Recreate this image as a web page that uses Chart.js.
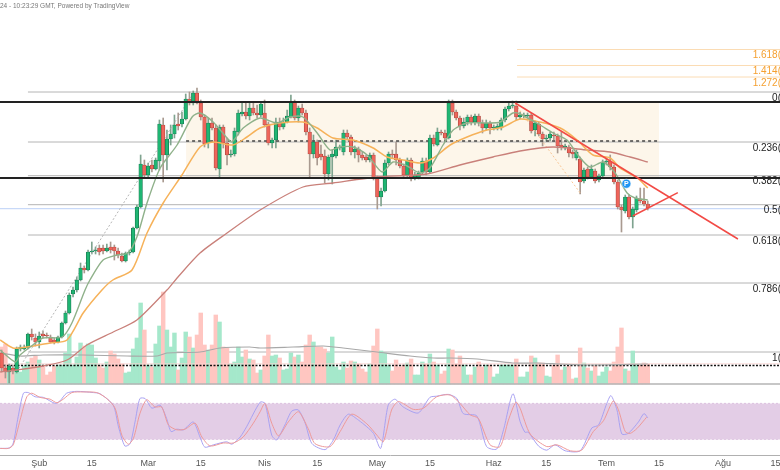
<!DOCTYPE html>
<html>
<head>
<meta charset="utf-8">
<script src="https://cdn.jsdelivr.net/npm/chart.js@4"></script>
<style>
    html, body { margin: 0; padding: 0; background: #ffffff; overflow: hidden; }
    canvas { display: block; filter: blur(0.45px); }
</style>
</head>
<body>
<canvas id="priceChart" width="780" height="470"></canvas>
<script>
// days are counted from 1 Feb
var firstCandleDay = -10;
var tickDays = [0, 14, 29, 43, 60, 74, 90, 104, 121, 135, 151, 165, 182, 196];
var tickLabels = ['Şub', '15', 'Mar', '15', 'Nis', '15', 'May', '15', 'Haz', '15', 'Tem', '15', 'Ağu', '15'];

var opens = [47,32,28,32,28,51,51,52,66,62,58,66,65,63,60,58,63,77,87,106,110,120,132,130,148,149,152,152,149,153,153,149,144,139,147,148,172,193,235,225,235,231,239,275,245,261,266,276,276,281,301,297,307,297,283,257,277,272,231,273,257,245,246,268,286,288,284,292,287,285,287,276,257,260,278,273,278,283,298,282,292,287,268,246,258,246,244,226,243,244,252,248,267,263,248,251,245,243,240,245,222,203,209,237,246,246,240,234,225,240,223,223,228,239,228,262,255,268,267,262,297,288,282,274,278,283,278,284,277,272,277,272,272,272,280,291,294,294,283,284,284,285,270,276,266,261,262,265,264,255,253,253,248,242,241,219,231,223,229,220,224,238,239,233,218,193,189,203,183,190,201,199,196];
var closes = [32,28,34,29,51,53,53,66,63,58,64,64,64,58,58,63,77,87,105,110,120,132,130,148,149,150,148,149,152,150,149,145,139,147,148,172,193,236,225,234,231,240,276,245,261,266,275,274,281,301,297,307,297,283,256,277,272,232,273,257,245,246,269,287,288,284,292,287,285,296,275,257,260,278,273,278,284,298,282,292,287,268,246,258,242,243,226,243,246,253,253,267,263,248,251,245,242,240,245,222,203,209,237,246,245,240,234,225,240,222,225,227,239,228,262,256,268,267,262,297,288,282,274,278,283,278,284,277,272,277,272,273,274,280,291,294,295,283,285,285,285,269,277,266,261,262,266,264,254,253,254,247,246,248,218,230,223,231,219,224,238,239,233,218,193,190,203,183,191,202,199,196,192];
var highs = [50,35,36,35,53,55,55,67,71,66,68,69,67,65,62,64,78,89,107,113,123,137,134,150,158,153,155,155,156,158,155,152,147,148,150,173,195,245,240,237,240,242,280,282,270,275,285,287,288,306,308,309,312,300,285,282,282,275,275,275,262,250,272,290,298,298,298,297,295,297,300,278,262,282,282,282,290,305,300,294,296,290,272,265,260,255,250,245,250,260,255,270,270,265,254,253,248,245,247,247,224,212,240,248,250,258,242,236,242,242,228,229,242,242,265,265,272,270,270,300,300,290,284,282,285,285,286,286,280,280,279,275,276,282,293,298,299,299,288,287,287,287,279,278,268,265,268,268,266,268,256,255,250,250,243,232,233,235,231,226,240,242,245,235,220,195,205,205,193,204,212,212,199];
var lows = [28,22,17,26,27,49,50,51,60,54,52,62,62,57,56,57,62,76,86,103,108,119,127,129,146,146,145,146,148,147,140,142,138,138,145,147,171,192,223,223,228,230,230,218,230,255,262,270,273,280,295,295,296,280,253,252,270,230,223,252,235,243,244,265,284,281,280,285,282,283,273,255,252,252,270,271,277,282,280,278,285,265,222,242,235,240,217,220,216,242,250,245,260,245,242,238,240,238,238,220,191,194,208,235,242,235,232,223,222,219,220,221,226,225,227,254,254,265,260,261,285,280,270,272,275,275,275,274,267,270,266,270,270,270,278,289,292,280,281,282,282,267,264,264,254,259,259,260,247,250,250,243,242,240,206,217,221,222,217,218,223,235,230,216,191,168,187,181,172,188,197,194,190];
var volumes = [37,40,12,14,22,12,18,22,26,28,24,18,9,12,18,19,19,31,50,19,27,41,38,40,39,26,19,16,22,33,30,25,20,11,12,35,46,81,54,19,17,40,58,92,54,37,51,14,26,52,47,36,49,71,39,34,39,69,62,37,36,20,22,37,27,34,25,24,11,14,28,49,28,29,26,14,15,31,27,29,22,39,49,42,37,37,35,31,47,17,14,22,16,23,22,20,15,12,20,38,55,33,31,19,13,24,17,19,21,25,9,9,22,20,30,22,19,10,13,35,34,20,28,19,9,9,17,22,17,19,19,7,10,19,19,19,19,25,7,7,12,28,26,21,21,8,7,19,29,14,17,18,5,6,36,21,16,13,18,8,12,17,13,22,37,56,15,13,33,20,19,21,20];

// moving averages: [day, value] pairs
var fastMaDays = [-10.4,-6.4,-5.1,-1.7,1,6.1,8.7,12.2,13.5,17,20.7,23.6,26,28.7,32.2,36.7,40.7,42.8,46.3,50,51.3,54.3,58.8,63.3,66.8,70.2,74,77.4,80.1,83.5,87.3,91.3,94.2,97.9,101.4,104,107.5,110.2,113.9,119.2,122.7,126.1,128,133.3,136.8,140.5,143.4,146.6,150.1,153.3,156.5,158.6,162];
var fastMa = [50,38,45,55,62,63,77,110,120,140,145,147,163,197,232,255,283,287,278,262,258,272,282,277,283,283,267,250,253,253,245,228,238,234,227,232,255,270,277,277,278,287,286,275,267,260,245,233,238,227,207,202,200];
var midMaDays = [-10.4,-7,-3.2,2.9,7.4,11.7,16.7,19.6,24.7,28.7,33,38,42.8,46.3,51.6,55.3,58.8,64.1,70.2,74,78.2,83.5,88.9,92.6,96.9,101.4,104.9,109.4,113.9,119.2,123.5,128,133.3,138.7,143.2,147.4,152,154.6,159.2,162];
var midMa = [60,52,53,57,60,87,110,120,130,167,197,225,253,258,255,263,272,277,278,272,262,260,252,243,240,237,242,255,263,270,273,281,278,272,260,245,242,232,222,212];
var slowMaDays = [-10.4,-6,1,7.4,12.7,19.7,26,34,36.7,42.8,50,58.8,70.2,78.2,89.9,103.2,112,120.8,128,136.8,145.9,152,157.3,162];
var slowMa = [28,30,34,40,55,68,80,110,122,147,167,190,213,217,223,226,235,243,249,253,250,248,243,238];
var volumeMaDays = [-10.4,-5.1,1,11.7,23.4,31.4,34,42.8,48.1,56,58.8,67.6,75.6,80.9,89.9,98.7,104.9,109.4,116.6,126.1,132.5,138.7,145.9,162];
var volumeMa = [31,28,29,29,28,28,31,32,36,37,36,37,38,36,32,28,26,26,25,21,21,20,19,20];

var stochKDays = [-10.4,-7.8,-6.9,-5.6,-4.2,-2.9,-1.1,1.1,4.2,5.5,7.3,10,14.4,16.2,19.7,21.1,22.8,24.2,25.5,26.8,28.2,30,32.2,33.9,35.1,36.6,38.4,41,42.8,44.1,46.4,49.9,51.3,53.5,55.2,58.8,60.1,61.9,63.2,65.4,67.2,69,70.8,72.6,76.1,78.3,80.1,82.3,85,87.2,89,90.9,92.9,94.7,96.9,100.9,104,105.8,108.9,111.2,112.9,116.5,119.1,121.8,123.6,126.1,128,129.3,130.2,132.9,135.1,137.3,140,144,147.1,148.9,151.1,152.2,153.8,155.1,156.8,159.5,161,162];
var stochK = [5,6,14,58,97,98,91,90,80,84,97,100,98,96,77,41,9,13,49,88,88,72,77,55,33,37,36,49,24,7,11,16,12,24,41,82,80,27,19,44,67,69,47,13,3,19,44,62,52,41,30,5,77,87,74,64,90,92,95,88,63,59,8,4,36,96,50,32,32,9,2,11,1,1,39,44,80,93,69,29,30,49,63,56];
var stochDDays = [-10.4,-8.2,-6.9,-5.1,-3.3,-2,0.2,2.9,4.7,6.4,8.7,11.7,15.3,18,20.2,22,23.7,25.1,26.8,28.6,30.8,32.6,34.4,36.6,38.8,41.5,43.3,45.5,49,51.7,54.3,57,58.8,60.1,61.9,63.7,66.3,69,71.6,73.4,77.4,80.1,83.2,87.2,89.9,91.6,93.8,95.6,99.6,102.3,105.8,109.4,112,114.7,116.9,120,122.7,124.9,126.9,128,130.7,135.1,137.8,141.4,144.4,147.5,150.2,152.8,154.2,156,157.3,159.1,161.7];
var stochD = [5,5,11,52,91,97,90,87,81,87,98,99,98,88,72,27,12,22,63,86,74,74,44,36,37,47,24,9,14,14,24,47,66,80,47,26,49,66,38,13,8,33,62,46,27,16,69,83,70,72,91,94,80,61,55,11,8,52,82,72,29,8,11,1,2,33,51,84,69,33,30,38,57];

var fibLevels = ['0', '0.236', '0.382', '0.5', '0.618', '0.786', '1'];
var fibPrices = [308, 258, 224.3, 195.3, 165, 117, 48];
var extLevels = ['1.272', '1.414', '1.618'];
var extPrices = [323, 334.5, 350.5];

var xMin = -10.44;
var xMax = 197.2;

function candleDay(i) {
    return firstCandleDay + i;
}

function pairs(days, values) {
    return days.map(function (d, i) {
        return { x: d, y: values[i] };
    });
}

function level(y, from, to, color, width, dash, order, axis) {
    return {
        type: 'line',
        data: [{ x: from, y: y }, { x: to, y: y }],
        yAxisID: axis || 'y',
        borderColor: color,
        borderWidth: width,
        borderDash: dash || [],
        pointRadius: 0,
        fill: false,
        order: order
    };
}

function curve(days, values, color, width, order, axis) {
    return {
        type: 'line',
        data: pairs(days, values),
        yAxisID: axis || 'y',
        borderColor: color,
        borderWidth: width,
        pointRadius: 0,
        tension: 0.25,
        fill: false,
        order: order
    };
}

var isUp = opens.map(function (o, i) { return closes[i] >= o; });

var datasets = [];

// consolidation box
var box = level(297, 39.1, 165, 'rgba(0,0,0,0)', 0, [], 100);
box.fill = { value: 221 };
box.backgroundColor = '#fdf6ea';
datasets.push(box);

// fib levels
fibPrices.forEach(function (p) {
    datasets.push(level(p, -3, xMax, '#b4b4b4', 1, [], 90));
});
extPrices.forEach(function (p) {
    datasets.push(level(p, 127.2, xMax, '#fbdcb4', 1, [], 90));
});
datasets.push(level(191.3, xMin, xMax, '#bcd0f7', 1, [], 88));
datasets.push(level(259, 39.1, 165, '#444444', 1.4, [3, 3], 55));
datasets.push(level(298, xMin, xMax, '#222222', 1.8, [], 35));
datasets.push(level(222, xMin, xMax, '#222222', 1.8, [], 35));

// stochastic band
var band = level(80, xMin, xMax, '#dcc2e0', 1, [2, 2], 85, 'yStoch');
band.fill = { value: 20 };
band.backgroundColor = '#e3cde6';
datasets.push(band);
datasets.push(level(20, xMin, xMax, '#dcc2e0', 1, [2, 2], 85, 'yStoch'));

// volume
datasets.push({
    type: 'bar',
    data: volumes.map(function (v, i) { return { x: candleDay(i), y: v }; }),
    yAxisID: 'yVol',
    grouped: false,
    barThickness: 3.8,
    backgroundColor: isUp.map(function (up) { return up ? '#a5e8cb' : '#ffc6c1'; }),
    order: 80
});
datasets.push(level(16, xMin, xMax, '#b4b4b4', 1.6, [], 75));
datasets.push(level(36.2, xMin, xMax, '#fad3d0', 0.8, [], 72));
datasets.push(level(34.5, xMin, xMax, '#111111', 1.4, [2, 1.5], 71));
datasets.push(curve(volumeMaDays, volumeMa, '#a8a8a8', 1.2, 70, 'yVol'));

// candles
datasets.push({
    type: 'bar',
    data: lows.map(function (l, i) { return { x: candleDay(i), y: [l, highs[i]] }; }),
    grouped: false,
    barThickness: 1,
    backgroundColor: isUp.map(function (up) { return up ? '#7fa38f' : '#a99a90'; }),
    order: 60
});
datasets.push({
    type: 'bar',
    data: opens.map(function (o, i) { return { x: candleDay(i), y: [o, closes[i]] }; }),
    grouped: false,
    barThickness: 3.6,
    minBarLength: 1,
    borderWidth: 0.7,
    borderSkipped: false,
    backgroundColor: isUp.map(function (up) { return up ? '#1fb673' : '#ee655b'; }),
    borderColor: isUp.map(function (up) { return up ? '#17744c' : '#a8443c'; }),
    order: 50
});

// moving averages
datasets.push(curve(slowMaDays, slowMa, '#c9807a', 1.3, 42));
datasets.push(curve(midMaDays, midMa, '#f6b25a', 1.5, 41));
datasets.push(curve(fastMaDays, fastMa, '#8fb18a', 1.4, 40));

// stochastic lines
datasets.push(curve(stochKDays, stochK, '#a9a2f2', 1, 31, 'yStoch'));
datasets.push(curve(stochDDays, stochD, '#ee9a9a', 1, 30, 'yStoch'));

// drawn lines
function segment(days, prices, color, width, dash, order) {
    return {
        type: 'line',
        data: pairs(days, prices),
        borderColor: color,
        borderWidth: width,
        borderDash: dash || [],
        pointRadius: 0,
        fill: false,
        order: order
    };
}
datasets.push(segment([-6, 41], [28, 307], '#b5b5b5', 1, [2, 2], 58));
datasets.push(segment([126.7, 144.2], [296, 206], '#f9c796', 1, [2, 2], 58));
datasets.push(segment([126.7, 186], [297, 161], '#f24a45', 1.5, [], 20));
datasets.push(segment([158, 170], [184, 207.3], '#f24a45', 1.5, [], 20));

// pivot marker
var pivotPoint = [{ x: 156.3, y: 216.3 }];
datasets.push({
    type: 'line',
    data: pivotPoint,
    showLine: false,
    pointRadius: 4.5,
    pointBackgroundColor: '#2196f3',
    pointBorderColor: '#ffffff',
    pointBorderWidth: 0.5,
    order: 10
});

var textPlugin = {
    id: 'chartTexts',
    afterDraw: function (chart) {
        var ctx = chart.ctx;
        var y = chart.scales.y;
        var right = 781;
        ctx.save();
        ctx.textBaseline = 'middle';
        ctx.textAlign = 'right';
        ctx.font = '10px "Liberation Sans"';
        ctx.fillStyle = '#222222';
        fibLevels.forEach(function (name, i) {
            ctx.fillText(name + '(', right, y.getPixelForValue(fibPrices[i]) + 6);
        });
        ctx.fillStyle = '#f5a030';
        extLevels.forEach(function (name, i) {
            ctx.fillText(name + '(', right, y.getPixelForValue(extPrices[i]) + 6);
        });
        ctx.textAlign = 'center';
        ctx.font = 'bold 7px "Liberation Sans"';
        ctx.fillStyle = '#ffffff';
        ctx.fillText('P', chart.scales.x.getPixelForValue(pivotPoint[0].x), y.getPixelForValue(pivotPoint[0].y));
        ctx.textAlign = 'left';
        ctx.font = '6.5px "Liberation Sans"';
        ctx.fillStyle = '#777777';
        ctx.fillText('24 - 10:23:29 GMT, Powered by TradingView', 0, 6);
        ctx.restore();
    }
};

new Chart(document.getElementById('priceChart'), {
    type: 'bar',
    data: { datasets: datasets },
    plugins: [textPlugin],
    options: {
        responsive: false,
        animation: false,
        devicePixelRatio: 1,
        events: [],
        layout: { padding: 0, autoPadding: false },
        plugins: {
            legend: { display: false },
            tooltip: { enabled: false },
            title: { display: false }
        },
        scales: {
            x: {
                type: 'linear',
                min: xMin,
                max: xMax,
                offset: false,
                grid: { display: false, drawTicks: false },
                border: { display: true, color: '#b0b0b0', width: 1 },
                afterBuildTicks: function (scale) {
                    scale.ticks = tickDays.map(function (d) { return { value: d }; });
                },
                afterFit: function (scale) {
                    scale.height = 15;
                    scale.paddingLeft = 0;
                    scale.paddingRight = 0;
                },
                ticks: {
                    autoSkip: false,
                    maxRotation: 0,
                    padding: 3,
                    color: '#555555',
                    font: { size: 9, family: '"Liberation Sans"' },
                    callback: function (value) {
                        return tickLabels[tickDays.indexOf(value)];
                    }
                }
            },
            y: { display: false, min: -55, max: 400 },
            yVol: { display: false, min: -71, max: 384 },
            yStoch: { display: false, min: -6, max: 752 }
        }
    }
});
</script>
</body>
</html>
